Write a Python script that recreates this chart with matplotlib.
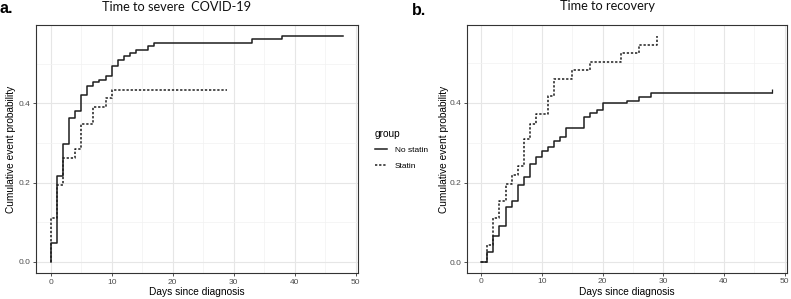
""" Cumulative incidence curves: time to severe COVID-19 and time to recovery, by statin use """
import matplotlib
matplotlib.use("Agg")
import matplotlib.pyplot as plt
from matplotlib.lines import Line2D

# panel a: time to severe COVID-19
severe_days_no_statin = [0, 0, 1, 2, 3, 4, 5, 6, 7, 8, 9, 10, 11, 12, 13, 14, 16, 17, 33, 38, 48]
severe_prob_no_statin = [0, 0.046, 0.217, 0.298, 0.364, 0.38, 0.42, 0.445, 0.453, 0.46, 0.47,
                         0.494, 0.51, 0.519, 0.528, 0.536, 0.545, 0.553, 0.562, 0.571, 0.571]
severe_days_statin = [0, 0, 1, 2, 4, 5, 7, 9, 10, 29]
severe_prob_statin = [0, 0.11, 0.195, 0.261, 0.284, 0.347, 0.39, 0.413, 0.434, 0.434]

# panel b: time to recovery
recovery_days_no_statin = [0, 1, 2, 3, 4, 5, 6, 7, 8, 9, 10, 11, 12, 13, 14, 17, 18, 19, 20, 24, 26, 28, 48]
recovery_prob_no_statin = [0, 0.025, 0.066, 0.09, 0.139, 0.155, 0.195, 0.214, 0.246, 0.263, 0.279, 0.289,
                           0.303, 0.314, 0.338, 0.364, 0.374, 0.383, 0.399, 0.405, 0.414, 0.424, 0.424]
recovery_days_statin = [0, 1, 2, 3, 4, 5, 6, 7, 8, 9, 11, 12, 15, 18, 23, 26, 29]
recovery_prob_statin = [0, 0.043, 0.11, 0.154, 0.196, 0.219, 0.241, 0.308, 0.348, 0.372, 0.416,
                        0.459, 0.481, 0.503, 0.524, 0.546, 0.567]

groups = ["No statin", "Statin"]
x_ticks = [0, 10, 20, 30, 40, 50]
y_ticks = [0.0, 0.2, 0.4]

W, H = 791, 299
SANS = ["Liberation Sans", "DejaVu Sans"]
TITLE_FONT = ["Lato", "DejaVu Sans"]
LINE_COLOR = "#1e1e1e"
DOTTED = (0, (1.5, 1.2))


def px_axes(fig, left, top, right, bottom):
    return fig.add_axes([left / W, 1 - bottom / H, (right - left) / W, (bottom - top) / H])


def style_axis(ax, ylim):
    ax.set_xlim(-2.4, 50.4)
    ax.set_ylim(*ylim)
    ax.set_xticks(x_ticks)
    ax.set_yticks(y_ticks)
    ax.set_xticklabels([str(t) for t in x_ticks])
    ax.set_yticklabels([f"{t:.1f}" for t in y_ticks])
    ax.set_xticks([5, 15, 25, 35, 45], minor=True)
    ax.set_yticks([0.1, 0.3, 0.5], minor=True)
    ax.grid(which="major", color="#e6e6e6", linewidth=0.8)
    ax.grid(which="minor", color="#f2f2f2", linewidth=0.5)
    ax.set_axisbelow(True)
    ax.tick_params(which="major", length=2.5, width=0.6, color="#333333", pad=1.5,
                   labelsize=6, labelcolor="#4d4d4d")
    ax.tick_params(which="minor", length=0)
    for lab in ax.get_xticklabels() + ax.get_yticklabels():
        lab.set_family(SANS)
    for sp in ax.spines.values():
        sp.set_color("#333333")
        sp.set_linewidth(0.8)


fig = plt.figure(figsize=(W / 100, H / 100), dpi=100)

ax_a = px_axes(fig, 36, 25, 358, 273)
ax_a.step(severe_days_no_statin, severe_prob_no_statin, where="post", color=LINE_COLOR, lw=1.1)
ax_a.step(severe_days_statin, severe_prob_statin, where="post", color=LINE_COLOR, lw=1.1, linestyle=DOTTED)
style_axis(ax_a, (-0.0286, 0.598))

ax_b = px_axes(fig, 466.7, 25, 787, 272.7)
ax_b.step(recovery_days_no_statin, recovery_prob_no_statin, where="post", color=LINE_COLOR, lw=1.1)
ax_b.plot(recovery_days_no_statin[-1:], recovery_prob_no_statin[-1:], marker=2, markersize=3,
          color=LINE_COLOR, mew=0.9)
ax_b.step(recovery_days_statin, recovery_prob_statin, where="post", color=LINE_COLOR, lw=1.1, linestyle=DOTTED)
style_axis(ax_b, (-0.026, 0.595))

# titles and panel letters
fig.text(177 / W, 1 - 11 / H, "Time to severe  COVID-19", family=TITLE_FONT, fontsize=9.2,
         ha="center", va="baseline", color="#111111")
fig.text(608 / W, 1 - 10.5 / H, "Time to recovery", family=TITLE_FONT, fontsize=9.2,
         ha="center", va="baseline", color="#111111")
fig.text(0 / W, 1 - 13 / H, "a.", family=SANS, fontsize=11.5, fontweight="bold", va="baseline")
fig.text(412 / W, 1 - 15 / H, "b.", family=SANS, fontsize=11.5, fontweight="bold", va="baseline")

# axis labels
for left, right, ylab_x in [(36, 358, 11), (466.7, 787, 444)]:
    fig.text((left + right) / 2 / W, 4 / H, "Days since diagnosis", family=SANS, fontsize=7.3,
             ha="center", va="baseline")
    fig.text(ylab_x / W, 1 - 149 / H, "Cumulative event probability", family=SANS, fontsize=7.3,
             ha="center", va="center", rotation=90)

# legend
handles = [Line2D([], [], color=LINE_COLOR, lw=1.1),
           Line2D([], [], color=LINE_COLOR, lw=1.1, linestyle=DOTTED)]
leg = fig.legend(handles, groups, title="group", loc="upper left",
                 bbox_to_anchor=(369 / W, 1 - 123 / H), frameon=False,
                 prop={"family": SANS, "size": 6}, title_fontproperties={"family": SANS, "size": 7.3},
                 handlelength=1.5, handletextpad=0.9, labelspacing=0.9, alignment="left",
                 borderpad=0.2)

fig.savefig("out.png", dpi=100)
